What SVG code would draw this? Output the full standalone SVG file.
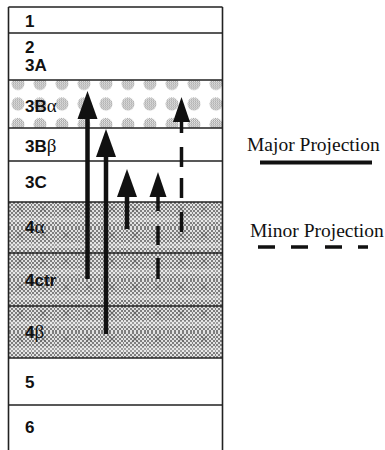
<svg xmlns="http://www.w3.org/2000/svg" width="385" height="450" viewBox="0 0 385 450">
  <style>
    .lbl { font-family: "Liberation Sans", Arial, sans-serif; font-weight: bold; font-size: 17px; fill: #111; }
    .gk { font-family: "Liberation Serif", "Times New Roman", serif; font-weight: normal; font-size: 19px; }
    .leg { font-family: "Liberation Serif", "Times New Roman", serif; font-size: 19.5px; fill: #111; }
    .rule { stroke: #222; stroke-width: 1.6; fill: none; }
    .major { stroke: #111; stroke-width: 4.5; fill: none; }
    .minor { stroke: #111; stroke-width: 3.5; fill: none; }
  </style>
  <defs>
    <!-- fine dither screens -->
    <pattern id="ditherLight" width="2" height="2" patternUnits="userSpaceOnUse">
      <rect width="2" height="2" fill="#f2f2f2"/>
      <rect width="1" height="1" fill="#9a9a9a"/>
      <rect x="1" y="1" width="1" height="1" fill="#9a9a9a"/>
    </pattern>
    <pattern id="ditherDark" width="4" height="4" patternUnits="userSpaceOnUse">
      <rect width="4" height="4" fill="#e2e2e2"/>
      <rect width="2" height="2" fill="#7e7e7e"/>
      <rect x="2" y="2" width="2" height="2" fill="#7e7e7e"/>
    </pattern>
    <!-- dotted-circle fill for layer 3B alpha -->
    <pattern id="dots" x="7" y="73" width="22" height="20.5" patternUnits="userSpaceOnUse">
      <circle cx="11" cy="10.5" r="6.5" fill="url(#ditherLight)"/>
    </pattern>
    <!-- cross-hatched halftone for layer 4 -->
    <pattern id="cross" x="9" y="202" width="23" height="26" patternUnits="userSpaceOnUse">
      <rect width="23" height="26" fill="url(#ditherDark)"/>
      <rect x="0" y="15" width="23" height="5" fill="#ffffff" opacity="0.25"/>
      <path d="M8,4 L14,10 M14,4 L8,10" stroke="#555" stroke-width="1.2" opacity="0.6"/>
    </pattern>
    <marker id="headMajor" markerUnits="userSpaceOnUse" markerWidth="30" markerHeight="24" refX="0" refY="10" orient="auto" viewBox="0 0 30 20">
      <path d="M0,0 L28,10 L0,20 Z" fill="#111"/>
    </marker>
    <marker id="headMinor" markerUnits="userSpaceOnUse" markerWidth="28" markerHeight="20" refX="0" refY="8.5" orient="auto" viewBox="0 0 28 17">
      <path d="M0,0 L25,8.5 L0,17 Z" fill="#111"/>
    </marker>
  </defs>

  <rect width="385" height="450" fill="#ffffff"/>

  <!-- cortical layers -->
  <g id="layer-1">
    <text class="lbl" x="25" y="27">1</text>
  </g>
  <g id="layer-2-3A">
    <text class="lbl" x="25" y="53">2</text>
    <text class="lbl" x="25" y="71">3A</text>
  </g>
  <g id="layer-3Balpha">
    <rect x="9" y="80" width="213.5" height="48" fill="url(#dots)"/>
    <text class="lbl" x="25" y="112">3B<tspan class="gk">α</tspan></text>
  </g>
  <g id="layer-3Bbeta">
    <text class="lbl" x="25" y="152">3B<tspan class="gk">β</tspan></text>
  </g>
  <g id="layer-3C">
    <text class="lbl" x="25" y="188">3C</text>
  </g>
  <g id="layer-4">
    <rect x="9" y="202" width="213.5" height="156" fill="url(#cross)"/>
  </g>
  <g id="layer-4alpha">
    <text class="lbl" x="25" y="233">4<tspan class="gk">α</tspan></text>
  </g>
  <g id="layer-4ctr">
    <text class="lbl" x="25" y="286">4ctr</text>
  </g>
  <g id="layer-4beta">
    <text class="lbl" x="25" y="338">4<tspan class="gk">β</tspan></text>
  </g>
  <g id="layer-5">
    <text class="lbl" x="25" y="388">5</text>
  </g>
  <g id="layer-6">
    <text class="lbl" x="25" y="433">6</text>
  </g>

  <!-- layer boundaries and column edges -->
  <g id="boundaries" class="rule">
    <path d="M8.5,7 H222.5 M8.5,33 H222.5 M8.5,80 H222.5 M8.5,128 H222.5 M8.5,161 H222.5 M8.5,202 H222.5 M8.5,253 H222.5 M8.5,306 H222.5 M8.5,358 H222.5 M8.5,405 H222.5"/>
    <path d="M8.5,7 V450 M222.5,7 V450"/>
  </g>

  <!-- projections -->
  <g id="connectors">
    <path class="major" d="M87.5,279 V119" marker-end="url(#headMajor)"/>
    <path class="major" d="M106,334 V157" marker-end="url(#headMajor)"/>
    <path class="major" d="M127,229 V197" marker-end="url(#headMajor)"/>
    <path class="minor" d="M158,279 V258 M158,245 V226 M158,211 V197" marker-end="url(#headMinor)"/>
    <path class="minor" d="M181.5,232 V212 M181.5,198 V178 M181.5,167 V147 M181.5,133 V122" marker-end="url(#headMinor)"/>
  </g>

  <!-- legend -->
  <g id="legend-major">
    <text class="leg" x="247" y="151">Major Projection</text>
    <path d="M260,162.5 H372" stroke="#111" stroke-width="4"/>
  </g>
  <g id="legend-minor">
    <text class="leg" x="250" y="237">Minor Projection</text>
    <path d="M258,247 H275 M291,247 H308 M325,247 H342 M358,247 H368" stroke="#111" stroke-width="3.5"/>
  </g>
</svg>
